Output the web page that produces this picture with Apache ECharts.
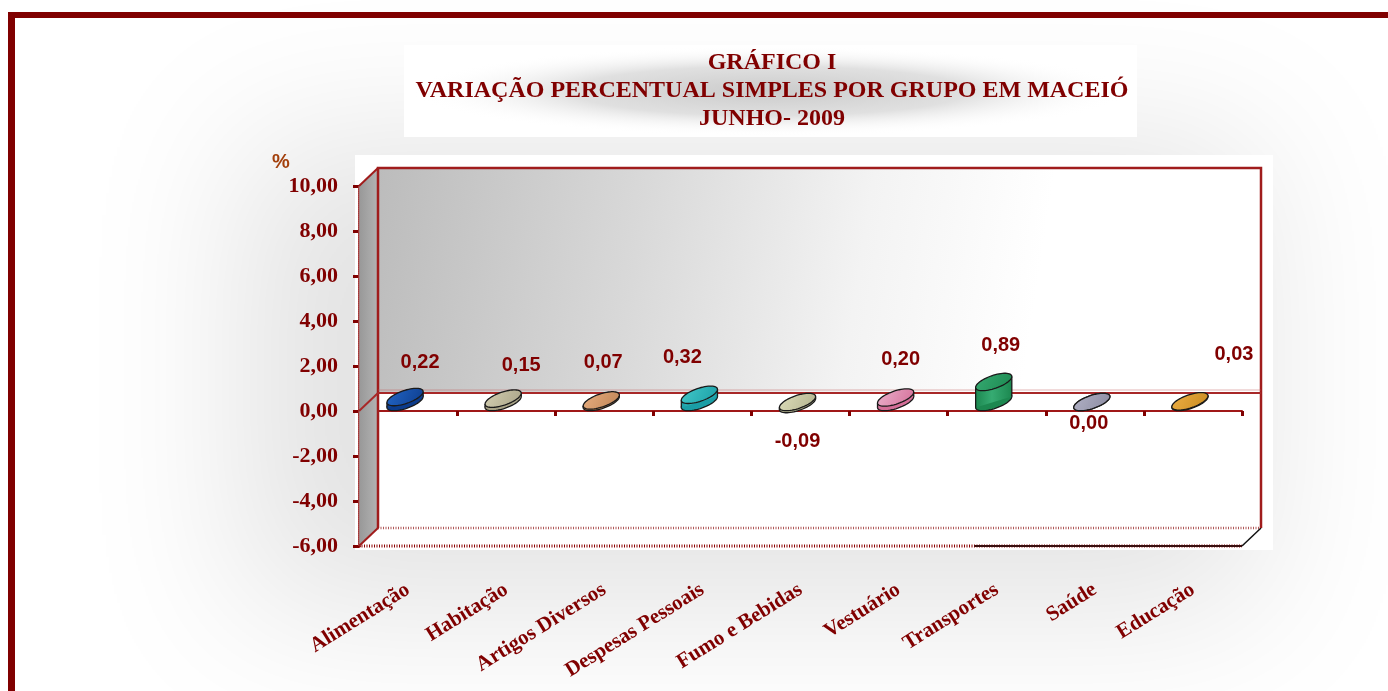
<!DOCTYPE html>
<html><head><meta charset="utf-8">
<script src="https://cdn.jsdelivr.net/npm/echarts@6/dist/echarts.min.js"></script>
<style>html,body{margin:0;padding:0;background:#fff}#c{width:1388px;height:691px}</style>
</head><body><div id="c"></div>
<script>
// ---- data ----
const categories = ['Alimentação', 'Habitação', 'Artigos Diversos', 'Despesas Pessoais', 'Fumo e Bebidas', 'Vestuário', 'Transportes', 'Saúde', 'Educação'];
const values = [0.22, 0.15, 0.07, 0.32, -0.09, 0.20, 0.89, 0.00, 0.03];
const yMin = -6, yMax = 10, yStep = 2;
const titleLines = ['GRÁFICO I', 'VARIAÇÃO PERCENTUAL SIMPLES POR GRUPO EM MACEIÓ', 'JUNHO- 2009'];
const unitLabel = '%';

// ---- styling / layout ----
const palette = [
  {top:'#2467c8', side:'#0c3c8c'},
  {top:'#d4cfb2', side:'#a8a386'},
  {top:'#e8ae80', side:'#bf8456'},
  {top:'#44caca', side:'#1a9ea6'},
  {top:'#dedebb', side:'#b2b28e'},
  {top:'#ebb2cd', side:'#d46e98'},
  {top:'#36ab72', side:'#1c8850'},
  {top:'#b2b2c6', side:'#8a8aa0'},
  {top:'#edaf44', side:'#c88a20'}
];
const labelShift = [[15,-35],[18,-33],[2,-38],[-17,-37],[0,37],[5,-38],[7,-36],[-3,21],[44,-47]];
const DX = 19, DY = -18;       // 3D depth offset
const BAR_DX = -3;             // bar shift inside its category
const EA = 19, EB = 6.5, ETH = -19 * Math.PI / 180; // ellipse radii & tilt
const RED = '#800000';
const fmt = v => Number(v).toFixed(2).replace('.', ',');

const cosT = Math.cos(ETH), sinT = Math.sin(ETH);
function ePt(cx, cy, t){ return [cx + EA*Math.cos(t)*cosT - EB*Math.sin(t)*sinT, cy + EA*Math.cos(t)*sinT + EB*Math.sin(t)*cosT]; }
function ellipsePts(cx, cy){ const p=[]; for(let i=0;i<60;i++){ p.push(ePt(cx, cy, i/60*2*Math.PI)); } return p; }
const t0 = Math.atan(-EB*sinT/(EA*cosT));
function extremes(cx, cy){ const a=ePt(cx,cy,t0), b=ePt(cx,cy,t0+Math.PI); return a[0]<b[0]?[a,b]:[b,a]; }

function renderFrame(params, api){
  const cs = params.coordSys;
  const x = cs.x, y = cs.y, w = cs.width, h = cs.height;
  const z0 = api.coord([0, 0])[1];
  const ch = [];
  ch.push({type:'polygon', shape:{points:[[x,y],[x+DX,y+DY],[x+DX,y+h+DY],[x,y+h]]},
    style:{fill:{type:'linear',x:0,y:0,x2:1,y2:0,colorStops:[{offset:0,color:'#979797'},{offset:1,color:'#b4b4b4'}]}, stroke:'#b86a6a', lineWidth:1}});
  ch.push({type:'rect', shape:{x:x+DX, y:y+DY, width:w, height:z0-y},
    style:{fill:{type:'linear',x:0,y:0,x2:1,y2:0.6,colorStops:[{offset:0,color:'#bcbcbc'},{offset:0.3,color:'#d9d9d9'},{offset:0.55,color:'#f3f3f3'},{offset:0.75,color:'#ffffff'},{offset:1,color:'#ffffff'}]}}});
  ch.push({type:'polygon', shape:{points:[[x,y+h],[x+DX,y+h+DY],[x+w+DX,y+h+DY],[x+w,y+h]]}, style:{fill:'#ffffff'}});
  ch.push({type:'line', shape:{x1:x+DX, y1:y+h+DY, x2:x+w+DX, y2:y+h+DY}, style:{stroke:'#b05858', lineWidth:2.5, lineDash:[1,1.5]}});
  ch.push({type:'line', shape:{x1:x, y1:y+h, x2:x+w, y2:y+h}, style:{stroke:'#8b0000', lineWidth:3, lineDash:[1,1.5]}});
  ch.push({type:'line', shape:{x1:x+w*0.697, y1:y+h, x2:x+w, y2:y+h}, style:{stroke:'#3a1010', lineWidth:2}});
  ch.push({type:'line', shape:{x1:x+w, y1:y+h, x2:x+w+DX, y2:y+h+DY}, style:{stroke:'#111', lineWidth:1.5}});
  ch.push({type:'polyline', shape:{points:[[x+DX,y+h+DY],[x+DX,y+DY],[x+w+DX,y+DY],[x+w+DX,y+h+DY]]}, style:{stroke:'#a01c1c', lineWidth:2.5, fill:null}});
  ch.push({type:'line', shape:{x1:x, y1:y, x2:x+DX, y2:y+DY}, style:{stroke:'#a01c1c', lineWidth:2}});
  ch.push({type:'line', shape:{x1:x, y1:y+h, x2:x+DX, y2:y+h+DY}, style:{stroke:'#a01c1c', lineWidth:2}});
  ch.push({type:'line', shape:{x1:x+DX, y1:z0+DY-3, x2:x+w+DX, y2:z0+DY-3}, style:{stroke:'rgba(190,90,90,0.45)', lineWidth:1}});
  ch.push({type:'line', shape:{x1:x+DX, y1:z0+DY, x2:x+w+DX, y2:z0+DY}, style:{stroke:'#a82828', lineWidth:2}});
  ch.push({type:'line', shape:{x1:x, y1:z0, x2:x+DX, y2:z0+DY}, style:{stroke:'#a82828', lineWidth:2}});
  return {type:'group', children:ch};
}

function renderBar(params, api){
  const idx = api.value(0), v = api.value(1);
  const c0 = api.coord([idx, 0]), c1 = api.coord([idx, v]);
  const cx = c0[0] + BAR_DX;
  const yb = c0[1] + DY/2, yt = c1[1] + DY/2;
  const col = palette[idx % palette.length];
  const lowY = Math.max(yb, yt), upY = Math.min(yb, yt);
  const lo = extremes(cx, lowY), up = extremes(cx, upY);
  const bodyFill = {type:'linear',x:0,y:0,x2:1,y2:0,colorStops:[{offset:0,color:col.side},{offset:0.45,color:col.top},{offset:1,color:col.side}]};
  const ch = [];
  ch.push({type:'polygon', shape:{points:ellipsePts(cx, lowY)}, style:{fill:col.side, stroke:'#1a1a1a', lineWidth:1.3}});
  if (lowY - upY > 0.5) {
    ch.push({type:'polygon', shape:{points:[lo[0], up[0], up[1], lo[1]]}, style:{fill:bodyFill}});
    ch.push({type:'line', shape:{x1:lo[0][0],y1:lo[0][1],x2:up[0][0],y2:up[0][1]}, style:{stroke:'#1a1a1a', lineWidth:1.3}});
    ch.push({type:'line', shape:{x1:lo[1][0],y1:lo[1][1],x2:up[1][0],y2:up[1][1]}, style:{stroke:'#1a1a1a', lineWidth:1.3}});
  }
  ch.push({type:'polygon', shape:{points:ellipsePts(cx, upY)},
    style:{fill:{type:'linear',x:0,y:0,x2:1,y2:1,colorStops:[{offset:0,color:col.top},{offset:1,color:col.side}]}, stroke:'#1a1a1a', lineWidth:1.3}});
  const sh = labelShift[idx] || [0, v > 0 ? -36 : 30];
  ch.push({type:'text', x: cx + sh[0], y: yt + sh[1],
    style:{text: fmt(v), fill: RED, font:'bold 20px "Liberation Sans", Arial, sans-serif', align:'center', verticalAlign:'middle'}});
  return {type:'group', children:ch};
}

const chart = echarts.init(document.getElementById('c'), null, {renderer:'canvas'});
chart.setOption({
  backgroundColor:'#ffffff',
  animation:false,
  title:{
    text: titleLines.join('\n'),
    left: 772, top: 49, textAlign:'center', padding:0,
    textStyle:{fontFamily:'"Liberation Serif", "Times New Roman", serif', fontWeight:'bold', fontSize:24, lineHeight:28, color:RED}
  },
  graphic:[
    // soft grey glow behind the chart (shadow of an off-screen rectangle)
    {type:'rect', z:-100, silent:true, shape:{x:3240, y:140, width:1020, height:470},
      style:{fill:'#000', shadowBlur:160, shadowColor:'rgba(0,0,0,0.115)', shadowOffsetX:-3000, shadowOffsetY:0}},
    {type:'rect', z:-99, silent:true, shape:{x:355, y:155, width:918, height:395}, style:{fill:'#ffffff'}},
    {type:'rect', z:-99, silent:true, shape:{x:404, y:45, width:733, height:92}, style:{fill:'#ffffff'}},
    {type:'circle', x:770, y:91, scaleX:7.2, scaleY:0.9, z:-98, silent:true, shape:{cx:0, cy:0, r:50},
      style:{fill:{type:'radial',x:0.5,y:0.5,r:0.5,colorStops:[{offset:0,color:'#cbcbcb'},{offset:0.55,color:'#e0e0e0'},{offset:1,color:'rgba(255,255,255,0)'}]}}},
    {type:'rect', z:50, silent:true, shape:{x:8, y:12, width:1380, height:6}, style:{fill:'#800000'}},
    {type:'rect', z:50, silent:true, shape:{x:8, y:12, width:7, height:679}, style:{fill:'#800000'}},
    {type:'text', z:50, silent:true, x:281, y:162,
      style:{text:unitLabel, fill:'#a3400c', font:'bold 20px "Liberation Sans", Arial, sans-serif', align:'center', verticalAlign:'middle'}}
  ],
  grid:{left:359, top:186, width:883, height:360, containLabel:false},
  xAxis:[
    {type:'category', data:categories, position:'bottom',
      axisLine:{show:true, onZero:true, lineStyle:{color:'#a01818', width:2}},
      axisTick:{show:true, interval:0, length:5, inside:false, lineStyle:{color:RED, width:3}},
      axisLabel:{show:false, interval:0}, splitLine:{show:false}},
    {type:'category', data:categories, position:'bottom',
      axisLine:{show:false, onZero:false}, axisTick:{show:false},
      axisLabel:{show:true, interval:0, rotate:32, margin:42, color:RED,
        fontFamily:'"Liberation Serif", "Times New Roman", serif', fontWeight:'bold', fontSize:21},
      splitLine:{show:false}}
  ],
  yAxis:{type:'value', min:yMin, max:yMax, interval:yStep,
    axisLine:{show:true, onZero:false, lineStyle:{color:'#8b0000', width:3, type:[1,1]}},
    axisTick:{show:true, length:6, lineStyle:{color:RED, width:3}},
    splitLine:{show:false},
    axisLabel:{formatter:v => fmt(v), margin:21, color:RED,
      fontFamily:'"Liberation Serif", "Times New Roman", serif', fontWeight:'bold', fontSize:22}},
  series:[
    {type:'custom', name:'frame', xAxisIndex:0, yAxisIndex:0, z:1, silent:true, clip:false,
      renderItem:renderFrame, data:[[0, 0]], encode:{x:0, y:1}},
    {type:'custom', name:'Variação', xAxisIndex:0, yAxisIndex:0, z:3, clip:false,
      renderItem:renderBar, data:values.map((v, i) => [i, v]), encode:{x:0, y:1}}
  ]
});
</script></body></html>
